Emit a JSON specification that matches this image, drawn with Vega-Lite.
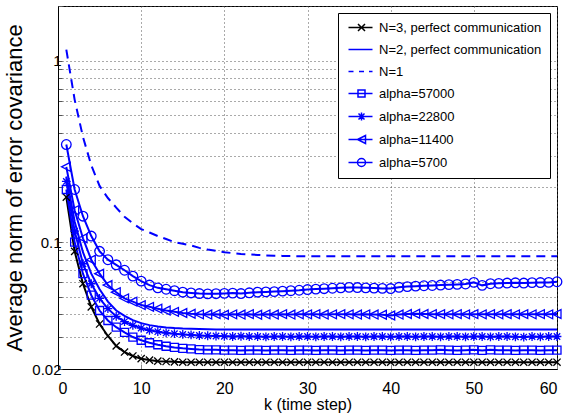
{
  "$schema": "https://vega.github.io/schema/vega-lite/v6.json",
  "width": 499,
  "height": 363,
  "autosize": {"type": "none"},
  "padding": {"left": 58, "top": 6, "right": 7, "bottom": 49},
  "background": "white",
  "config": {
    "view": {"stroke": "black", "strokeWidth": 1},
    "font": "Liberation Sans, Arial, sans-serif"
  },
  "data": {"values": [
    {"k":1,"n3":0.177,"n2":0.23,"n1":1.15,"a":0.195,"b":0.216,"c":0.26,"d":0.345},
    {"k":2,"n3":0.089,"n2":0.13,"n1":0.61,"a":0.1,"b":0.115,"c":0.15,"d":0.195},
    {"k":3,"n3":0.059,"n2":0.088,"n1":0.38,"a":0.067,"b":0.076,"c":0.105,"d":0.139},
    {"k":4,"n3":0.044,"n2":0.067,"n1":0.265,"a":0.051,"b":0.059,"c":0.08,"d":0.108},
    {"k":5,"n3":0.0354,"n2":0.055,"n1":0.204,"a":0.042,"b":0.049,"c":0.067,"d":0.089},
    {"k":6,"n3":0.0304,"n2":0.047,"n1":0.175,"a":0.037,"b":0.043,"c":0.058,"d":0.08},
    {"k":7,"n3":0.0268,"n2":0.042,"n1":0.155,"a":0.034,"b":0.039,"c":0.053,"d":0.075},
    {"k":8,"n3":0.0248,"n2":0.0392,"n1":0.138,"a":0.0318,"b":0.0365,"c":0.049,"d":0.07},
    {"k":9,"n3":0.0236,"n2":0.0372,"n1":0.127,"a":0.03,"b":0.0348,"c":0.047,"d":0.065},
    {"k":10,"n3":0.0228,"n2":0.0358,"n1":0.118,"a":0.0288,"b":0.0336,"c":0.045,"d":0.061},
    {"k":11,"n3":0.0224,"n2":0.0349,"n1":0.113,"a":0.0279,"b":0.0327,"c":0.044,"d":0.058},
    {"k":12,"n3":0.0221,"n2":0.0343,"n1":0.108,"a":0.0272,"b":0.0321,"c":0.043,"d":0.056},
    {"k":13,"n3":0.022,"n2":0.0339,"n1":0.104,"a":0.0267,"b":0.0316,"c":0.042,"d":0.055},
    {"k":14,"n3":0.0219,"n2":0.0336,"n1":0.1,"a":0.0263,"b":0.0313,"c":0.0413,"d":0.054},
    {"k":15,"n3":0.0218,"n2":0.0334,"n1":0.098,"a":0.026,"b":0.031,"c":0.0407,"d":0.053},
    {"k":16,"n3":0.0218,"n2":0.0333,"n1":0.096,"a":0.0258,"b":0.0308,"c":0.0403,"d":0.0525},
    {"k":17,"n3":0.0218,"n2":0.0332,"n1":0.093,"a":0.0256,"b":0.0306,"c":0.04,"d":0.0521},
    {"k":18,"n3":0.0218,"n2":0.0331,"n1":0.091,"a":0.0255,"b":0.0305,"c":0.0399,"d":0.0519},
    {"k":19,"n3":0.0218,"n2":0.033,"n1":0.0895,"a":0.0255,"b":0.0304,"c":0.0401,"d":0.052},
    {"k":20,"n3":0.0218,"n2":0.033,"n1":0.088,"a":0.0254,"b":0.0303,"c":0.0398,"d":0.0522},
    {"k":21,"n3":0.0218,"n2":0.033,"n1":0.087,"a":0.0254,"b":0.0302,"c":0.04,"d":0.0524},
    {"k":22,"n3":0.0218,"n2":0.033,"n1":0.086,"a":0.0253,"b":0.0303,"c":0.0399,"d":0.0521},
    {"k":23,"n3":0.0218,"n2":0.033,"n1":0.0855,"a":0.0254,"b":0.0302,"c":0.0401,"d":0.0526},
    {"k":24,"n3":0.0218,"n2":0.033,"n1":0.085,"a":0.0254,"b":0.0302,"c":0.0398,"d":0.053},
    {"k":25,"n3":0.0218,"n2":0.033,"n1":0.0845,"a":0.0253,"b":0.0301,"c":0.04,"d":0.0532},
    {"k":26,"n3":0.0218,"n2":0.033,"n1":0.0842,"a":0.0254,"b":0.0302,"c":0.0399,"d":0.0534},
    {"k":27,"n3":0.0218,"n2":0.033,"n1":0.084,"a":0.0254,"b":0.0302,"c":0.0401,"d":0.0537},
    {"k":28,"n3":0.0218,"n2":0.033,"n1":0.0838,"a":0.0253,"b":0.0301,"c":0.0399,"d":0.054},
    {"k":29,"n3":0.0218,"n2":0.033,"n1":0.0836,"a":0.0254,"b":0.0302,"c":0.04,"d":0.0543},
    {"k":30,"n3":0.0218,"n2":0.033,"n1":0.0835,"a":0.0254,"b":0.0302,"c":0.04,"d":0.0548},
    {"k":31,"n3":0.0218,"n2":0.033,"n1":0.0835,"a":0.0253,"b":0.0301,"c":0.0401,"d":0.0551},
    {"k":32,"n3":0.0218,"n2":0.033,"n1":0.0835,"a":0.0254,"b":0.0302,"c":0.0399,"d":0.0554},
    {"k":33,"n3":0.0218,"n2":0.033,"n1":0.0835,"a":0.0254,"b":0.0302,"c":0.04,"d":0.0557},
    {"k":34,"n3":0.0218,"n2":0.033,"n1":0.0835,"a":0.0253,"b":0.0301,"c":0.0401,"d":0.056},
    {"k":35,"n3":0.0218,"n2":0.033,"n1":0.0835,"a":0.0254,"b":0.0302,"c":0.04,"d":0.0563},
    {"k":36,"n3":0.0218,"n2":0.033,"n1":0.0835,"a":0.0254,"b":0.0302,"c":0.0399,"d":0.0562},
    {"k":37,"n3":0.0218,"n2":0.033,"n1":0.0835,"a":0.0253,"b":0.0301,"c":0.04,"d":0.056},
    {"k":38,"n3":0.0218,"n2":0.033,"n1":0.0835,"a":0.0254,"b":0.0302,"c":0.0399,"d":0.0558},
    {"k":39,"n3":0.0218,"n2":0.033,"n1":0.0835,"a":0.0254,"b":0.0302,"c":0.0398,"d":0.0556},
    {"k":40,"n3":0.0218,"n2":0.033,"n1":0.0835,"a":0.0253,"b":0.0301,"c":0.0394,"d":0.0555},
    {"k":41,"n3":0.0218,"n2":0.033,"n1":0.0835,"a":0.0254,"b":0.0302,"c":0.0399,"d":0.0564},
    {"k":42,"n3":0.0218,"n2":0.033,"n1":0.0835,"a":0.0254,"b":0.0302,"c":0.0402,"d":0.0569},
    {"k":43,"n3":0.0218,"n2":0.033,"n1":0.0835,"a":0.0253,"b":0.0301,"c":0.0403,"d":0.0572},
    {"k":44,"n3":0.0218,"n2":0.033,"n1":0.0835,"a":0.0254,"b":0.0302,"c":0.0402,"d":0.0575},
    {"k":45,"n3":0.0218,"n2":0.033,"n1":0.0835,"a":0.0254,"b":0.0302,"c":0.0401,"d":0.0577},
    {"k":46,"n3":0.0218,"n2":0.033,"n1":0.0835,"a":0.0255,"b":0.0301,"c":0.0401,"d":0.058},
    {"k":47,"n3":0.0218,"n2":0.033,"n1":0.0835,"a":0.0254,"b":0.0302,"c":0.04,"d":0.0583},
    {"k":48,"n3":0.0218,"n2":0.033,"n1":0.0835,"a":0.0253,"b":0.0302,"c":0.0401,"d":0.0585},
    {"k":49,"n3":0.0218,"n2":0.033,"n1":0.0835,"a":0.0254,"b":0.0301,"c":0.04,"d":0.0588},
    {"k":50,"n3":0.0218,"n2":0.033,"n1":0.0835,"a":0.0255,"b":0.0302,"c":0.0401,"d":0.06},
    {"k":51,"n3":0.0218,"n2":0.033,"n1":0.0835,"a":0.0253,"b":0.0302,"c":0.04,"d":0.0578},
    {"k":52,"n3":0.0218,"n2":0.033,"n1":0.0835,"a":0.0255,"b":0.0301,"c":0.0401,"d":0.059},
    {"k":53,"n3":0.0218,"n2":0.033,"n1":0.0835,"a":0.0254,"b":0.0302,"c":0.04,"d":0.0593},
    {"k":54,"n3":0.0218,"n2":0.033,"n1":0.0835,"a":0.0254,"b":0.0302,"c":0.0401,"d":0.0595},
    {"k":55,"n3":0.0218,"n2":0.033,"n1":0.0835,"a":0.0253,"b":0.0301,"c":0.04,"d":0.0597},
    {"k":56,"n3":0.0218,"n2":0.033,"n1":0.0835,"a":0.0254,"b":0.03,"c":0.0401,"d":0.0595},
    {"k":57,"n3":0.0218,"n2":0.033,"n1":0.0835,"a":0.0254,"b":0.0302,"c":0.04,"d":0.0598},
    {"k":58,"n3":0.0218,"n2":0.033,"n1":0.0835,"a":0.0253,"b":0.0301,"c":0.0401,"d":0.0599},
    {"k":59,"n3":0.0218,"n2":0.033,"n1":0.0835,"a":0.0254,"b":0.0302,"c":0.04,"d":0.06},
    {"k":60,"n3":0.0218,"n2":0.033,"n1":0.0835,"a":0.0254,"b":0.0302,"c":0.0402,"d":0.0605}
  ]},
  "transform": [{"fold": ["n3","n2","n1","a","b","c","d"], "as": ["s","v"]}],
  "encoding": {
    "x": {
      "field": "k", "type": "quantitative",
      "scale": {"domain": [0, 60], "nice": false},
      "axis": {
        "title": "k (time step)",
        "values": [0,10,20,30,40,50,60],
        "grid": true, "gridDash": [1,3], "gridColor": "#555", "gridWidth": 1,
        "domainColor": "black", "domainWidth": 1,
        "ticks": true, "tickSize": -5, "tickColor": "#888",
        "labelFont": "Liberation Sans, Arial, sans-serif",
        "labelFontSize": 16, "labelColor": "black", "labelPadding": 16,
        "titleFont": "Liberation Sans, Arial, sans-serif",
        "titleFontSize": 16, "titleFontWeight": "normal", "titleColor": "black", "titlePadding": 0
      }
    },
    "y": {
      "field": "v", "type": "quantitative",
      "scale": {"type": "log", "domain": [0.02, 2], "nice": false},
      "axis": {
        "title": "Average norm of error covariance",
        "values": [0.02,0.03,0.04,0.05,0.06,0.07,0.08,0.09,0.1,0.2,0.3,0.4,0.5,0.6,0.7,0.8,0.9,1,2],
        "labelExpr": "datum.value == 0.02 ? '0.02' : datum.value == 0.1 ? '0.1' : datum.value == 1 ? '1' : ''",
        "grid": true, "gridDash": [1,3], "gridColor": "#555", "gridWidth": 1,
        "domainColor": "black", "domainWidth": 1,
        "ticks": true, "tickSize": -4, "tickColor": "#555",
        "labelFont": "Liberation Sans, Arial, sans-serif",
        "labelFontSize": 15, "labelColor": "black", "labelPadding": 1,
        "titleFont": "Liberation Sans, Arial, sans-serif",
        "titleFontSize": 22, "titleFontWeight": "normal", "titleColor": "black", "titlePadding": 5
      }
    },
    "color": {
      "field": "s", "type": "nominal",
      "scale": {"domain": ["n3","n2","n1","a","b","c","d"], "range": ["#000000","#0000ff","#0000ff","#0000ff","#0000ff","#0000ff","#0000ff"]},
      "legend": {
        "title": null,
        "orient": "top-right",
        "offset": 7,
        "strokeColor": "black",
        "fillColor": "white",
        "padding": 8,
        "cornerRadius": 0,
        "labelFont": "Liberation Sans, Arial, sans-serif",
        "labelFontSize": 13,
        "labelColor": "black",
        "labelLimit": 400,
        "symbolSize": 100,
        "symbolOffset": 9,
        "labelOffset": 11,
        "rowPadding": 8,
        "symbolStrokeWidth": 1.5,
        "symbolOpacity": 1,
        "labelExpr": "datum.value == 'n3' ? 'N=3, perfect communication' : datum.value == 'n2' ? 'N=2, perfect communication' : datum.value == 'n1' ? 'N=1' : datum.value == 'a' ? 'alpha=57000' : datum.value == 'b' ? 'alpha=22800' : datum.value == 'c' ? 'alpha=11400' : 'alpha=5700'",
        "encoding": {
          "symbols": {
            "shape": {"value": {"expr": "datum.value == 'n3' ? 'M-2.6,0L2.2,0M-0.7,-0.7L0.7,0.7M-0.7,0.7L0.7,-0.7' : datum.value == 'n2' ? 'M-2.6,0L2.2,0' : datum.value == 'n1' ? 'M-2.6,0L-1.6,0M-0.5,0L0.5,0M1.5,0L2.2,0' : datum.value == 'a' ? 'M-2.6,0L2.2,0M-0.7,-0.7L0.7,-0.7L0.7,0.7L-0.7,0.7Z' : datum.value == 'b' ? 'M-2.6,0L2.2,0M0,-0.8L0,0.8M-0.6,-0.6L0.6,0.6M-0.6,0.6L0.6,-0.6' : datum.value == 'c' ? 'M-2.6,0L2.2,0M-0.8,0L0.8,-0.8L0.8,0.8Z' : 'M-2.6,0L2.2,0M-0.8,0A0.8,0.8 0 1,0 0.8,0A0.8,0.8 0 1,0 -0.8,0Z'"}},
            "fill": {"value": "transparent"}
          }
        }
      }
    }
  },
  "layer": [
    {
      "transform": [{"filter": "datum.s != 'n1'"}],
      "mark": {"type": "line", "strokeWidth": 2}
    },
    {
      "transform": [{"filter": "datum.s == 'n1'"}],
      "mark": {"type": "line", "strokeWidth": 2, "strokeDash": [9, 6]}
    },
    {
      "transform": [{"filter": "datum.s != 'n1' && datum.s != 'n2'"}],
      "mark": {"type": "point", "filled": false, "strokeWidth": 1.3, "size": 64, "opacity": 1},
      "encoding": {
        "shape": {
          "field": "s", "type": "nominal",
          "scale": {
            "domain": ["n3","a","b","c","d"],
            "range": [
              "M-0.9,-0.9L0.9,0.9M-0.9,0.9L0.9,-0.9",
              "M-1,-1L1,-1L1,1L-1,1Z",
              "M0,-1.1L0,1.1M-1.1,0L1.1,0M-0.8,-0.8L0.8,0.8M-0.8,0.8L0.8,-0.8",
              "M-1.2,0L1,-1.1L1,1.1Z",
              "M-1.2,0A1.2,1.2 0 1,0 1.2,0A1.2,1.2 0 1,0 -1.2,0Z"
            ]
          },
          "legend": null
        }
      }
    }
  ]
}
